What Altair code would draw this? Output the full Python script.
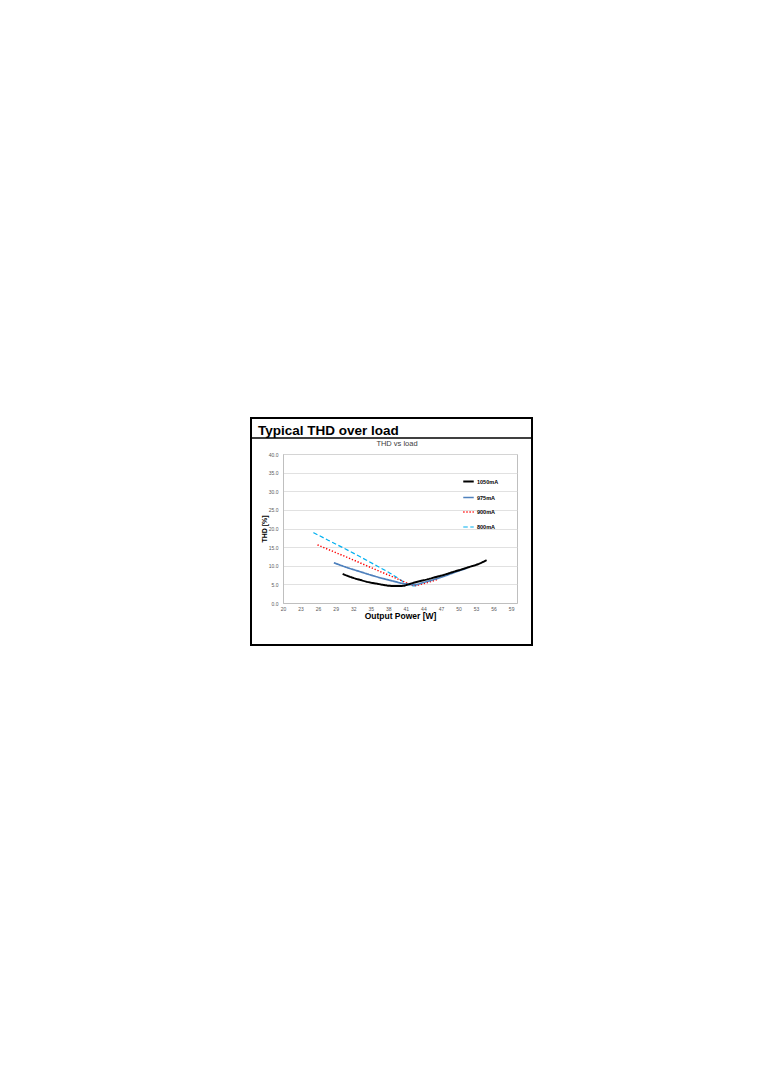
import altair as alt
import pandas as pd

# ---------------- data ----------------
series_names = ["1050mA", "975mA", "900mA", "800mA"]
series_colors = ["#000000", "#4f81bd", "#ff0000", "#00b0f0"]
series_dash = [[1, 0], [1, 0], [1.3, 1.8], [4.5, 2.5]]
series_width = [2.0, 1.2, 1.5, 1.8]

x_1050 = [30.2, 31.7, 33.2, 34.6, 36.0, 37.2, 38.3, 39.4, 40.5, 41.4, 43.0, 44.8, 46.2, 47.6, 49.0, 50.5, 51.9, 53.3, 54.8]
y_1050 = [7.8, 6.9, 6.2, 5.6, 5.2, 4.85, 4.6, 4.55, 4.6, 5.0, 5.7, 6.4, 7.0, 7.6, 8.3, 9.0, 9.7, 10.4, 11.5]

x_975 = [28.7, 31.0, 33.2, 36.0, 38.8, 41.0, 42.5, 44.0, 47.0, 50.0, 51.5]
y_975 = [10.8, 9.5, 8.4, 7.05, 5.9, 5.1, 4.9, 5.5, 6.9, 8.6, 9.4]

x_900 = [25.9, 28.0, 30.3, 33.0, 36.0, 39.4, 41.3, 42.5, 44.0, 46.5]
y_900 = [15.6, 14.2, 12.7, 10.9, 8.85, 6.6, 5.3, 4.7, 5.2, 6.4]

x_800 = [25.2, 27.8, 30.3, 33.2, 36.0, 38.3, 40.5, 41.3, 42.3, 43.2]
y_800 = [18.9, 16.8, 14.8, 12.4, 10.0, 8.0, 5.8, 5.0, 4.6, 4.7]

x_ticks = [20, 23, 26, 29, 32, 35, 38, 41, 44, 47, 50, 53, 56, 59]
y_ticks = [0, 5, 10, 15, 20, 25, 30, 35, 40]

main_title = "Typical THD over load"
chart_title = "THD  vs load"
x_title = "Output Power [W]"
y_title = "THD [%]"

FONT = "Liberation Sans"

rows = []
for name, xs, ys in [("800mA", x_800, y_800), ("900mA", x_900, y_900),
                     ("975mA", x_975, y_975), ("1050mA", x_1050, y_1050)]:
    for i, (xv, yv) in enumerate(zip(xs, ys)):
        rows.append({"series": name, "power": xv, "thd": yv, "order": i})
df = pd.DataFrame(rows)

legend = alt.Legend(
    title=None, orient="none", legendX=179, legendY=21,
    symbolType="stroke", symbolSize=110, symbolStrokeWidth=1.6,
    labelFontSize=5.5, labelFontWeight="bold", labelColor="#000000", labelFont=FONT,
    rowPadding=5, labelOffset=2, padding=0,
)

lines = alt.Chart(df).mark_line(interpolate="monotone").encode(
    x=alt.X("power:Q",
            scale=alt.Scale(domain=[20, 60], nice=False, zero=False),
            axis=alt.Axis(values=x_ticks, title=x_title, grid=False, ticks=False,
                          labelPadding=3, titlePadding=0, titleFontSize=8.5,
                          labelFlush=False)),
    y=alt.Y("thd:Q",
            scale=alt.Scale(domain=[0, 40], nice=False),
            axis=alt.Axis(values=y_ticks, format=".1f", title=y_title, ticks=False,
                          labelPadding=5, titlePadding=1, titleFontSize=7)),
    color=alt.Color("series:N", scale=alt.Scale(domain=series_names, range=series_colors), legend=legend),
    strokeDash=alt.StrokeDash("series:N", scale=alt.Scale(domain=series_names, range=series_dash), legend=legend),
    strokeWidth=alt.StrokeWidth("series:N", scale=alt.Scale(domain=series_names, range=series_width), legend=legend),
    order=alt.Order("order:Q"),
)

one = pd.DataFrame({"t": [main_title], "s": [chart_title]})

frame = alt.Chart(one).mark_rect(filled=False, stroke="#000000", strokeWidth=2).encode(
    x=alt.value(-32), x2=alt.value(249), y=alt.value(-36), y2=alt.value(191)
)
sep = alt.Chart(one).mark_rule(stroke="#000000", strokeWidth=1.5).encode(
    x=alt.value(-32), x2=alt.value(249), y=alt.value(-16)
)
big_title = alt.Chart(one).mark_text(
    align="left", baseline="alphabetic", fontSize=13.5, fontWeight="bold", font=FONT, color="#000000"
).encode(x=alt.value(-25), y=alt.value(-19.5), text="t:N")
sub_title = alt.Chart(one).mark_text(
    align="center", baseline="middle", fontSize=7.5, fontWeight="normal", font=FONT, color="#404040"
).encode(x=alt.value(114), y=alt.value(-10), text="s:N")

chart = alt.layer(frame, sep, big_title, sub_title, lines).properties(
    width=234, height=149,
    autosize=alt.AutoSizeParams(type="none"),
    padding={"left": 275, "top": 446, "right": 20, "bottom": 50},
).configure_view(
    stroke="#bfbfbf", strokeWidth=1
).configure_axis(
    labelFont=FONT, titleFont=FONT, labelFontSize=5, labelColor="#595959",
    titleColor="#000000", titleFontWeight="bold",
    domainColor="#bfbfbf", gridColor="#d9d9d9", gridWidth=0.8,
)

chart.save("out.html", embed_options={"renderer": "svg", "actions": False})
